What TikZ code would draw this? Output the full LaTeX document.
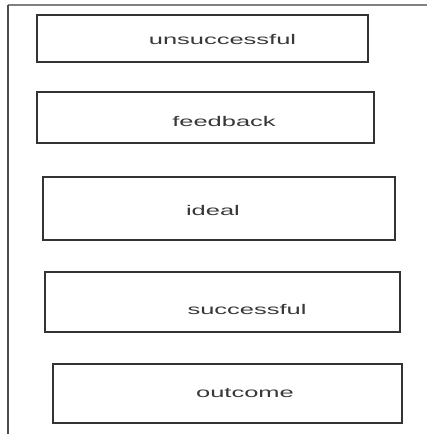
\documentclass[tikz,border=0pt]{standalone}
\usepackage{fontspec}
\newfontfamily\widesans[FakeStretch=1.82]{Liberation Sans}
\begin{document}
\begin{tikzpicture}[x=1pt,y=-1pt,
  box/.style={draw=black!80, line width=1.4pt, inner sep=0pt, outer sep=0pt, fill=white},
  lbl/.style={font=\widesans\fontsize{14}{16}\selectfont, text=black!78, inner sep=0pt, anchor=base},
  frameline/.style={line width=2pt}]
\useasboundingbox (0,0) rectangle (429,434);
\coordinate (tl) at (7.5,5);
\coordinate (tr) at (427,5);
\coordinate (bl) at (7.5,434);
\draw[frameline, draw=black!50] (tl) -- (tr);
\draw[frameline, draw=black!70] (tl) -- (bl);
\node[box, minimum width=331pt, minimum height=47pt] (b1) at (202.5,38.5) {};
\node[box, minimum width=337pt, minimum height=51pt] (b2) at (205.5,117.5) {};
\node[box, minimum width=352pt, minimum height=63pt] (b3) at (219,208.5) {};
\node[box, minimum width=355pt, minimum height=60pt] (b4) at (222.5,302) {};
\node[box, minimum width=349pt, minimum height=59pt] (b5) at (227.5,393.5) {};
\node[lbl] (t1) at (222.5,44.5) {unsuccessful};
\node[lbl] (t2) at (224,126.5) {feedback};
\node[lbl] (t3) at (213,215) {ideal};
\node[lbl] (t4) at (247,314) {successful};
\node[lbl] (t5) at (245,397) {outcome};
\end{tikzpicture}
\end{document}
